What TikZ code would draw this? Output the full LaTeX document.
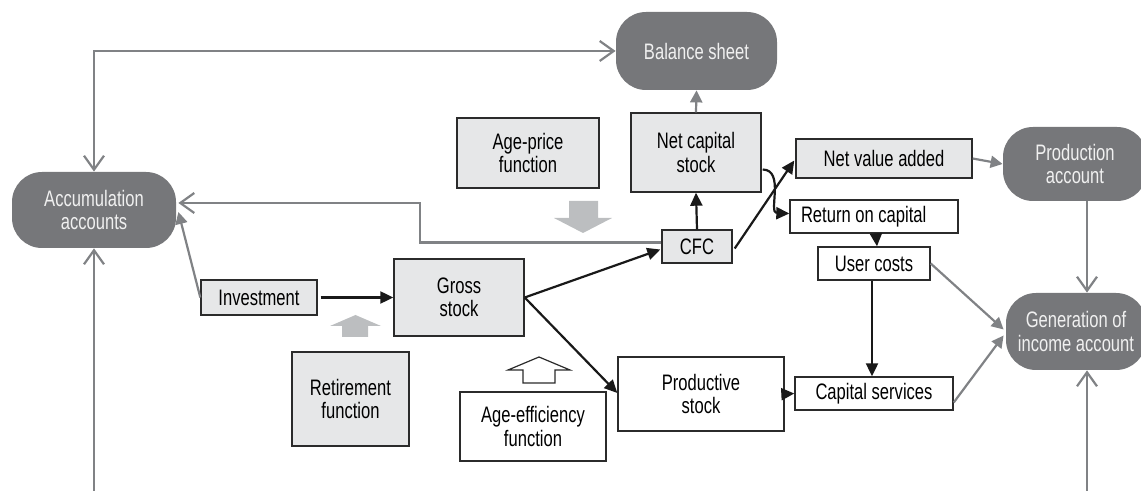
\documentclass[tikz,border=0pt]{standalone}
\usepackage{fontspec}
\setmainfont{Liberation Sans}[FakeStretch=0.74]
\usetikzlibrary{arrows.meta,calc}
\definecolor{acctfill}{HTML}{76777A}
\definecolor{boxfill}{HTML}{E6E7E8}
\definecolor{boxline}{HTML}{2B2B2B}
\definecolor{flowgray}{HTML}{808285}
\definecolor{bigarrow}{HTML}{BCBEC0}
\tikzset{
  every node/.style={font=\fontsize{11.2}{11.6}\selectfont, inner sep=0pt, align=center},
  acct/.style={rounded corners=15pt, fill=acctfill, text=white!94!black},
  boxg/.style={draw=boxline, fill=boxfill, line width=0.7pt},
  boxw/.style={draw=boxline, fill=white, line width=0.7pt},
  blk/.style={draw=black!90, line width=1.1pt, -{Triangle[length=6.5pt,width=6pt]}},
  grayf/.style={draw=flowgray, line width=1.1pt, -{Triangle[length=6pt,width=6pt]}},
  grayo/.style={draw=flowgray, line width=1.1pt, -{Straight Barb[length=7pt,width=10pt]}},
}
\begin{document}
\begin{tikzpicture}[x=0.5pt,y=-0.5pt]
\useasboundingbox (0,0) rectangle (1141,491);

% account nodes
\node[acct, minimum width=82pt, minimum height=38pt] (acc) at (94,210) {Accumulation\\accounts};
\node[acct, minimum width=80.5pt, minimum height=39pt] (bal) at (696.5,51) {Balance sheet};
\node[acct, minimum width=72pt, minimum height=37pt] (prodacc) at (1075,164) {Production\\account};
\node[acct, minimum width=70pt, minimum height=38.5pt] (gen) at (1076,331.5) {Generation of\\income account};

% stock and flow boxes
\node[boxg, minimum width=65pt, minimum height=39.5pt] (netcap) at (696,152.5) {Net capital\\stock};
\node[boxg, minimum width=71pt, minimum height=35pt] (ageprice) at (528,153) {Age-price\\function};
\node[boxg, minimum width=35pt, minimum height=16.5pt] (cfc) at (697,246.5) {CFC};
\node[boxg, minimum width=58pt, minimum height=17.5pt] (invest) at (259,297.5) {Investment};
\node[boxg, minimum width=65pt, minimum height=38.5pt] (gross) at (459,297.5) {Gross\\stock};
\node[boxg, minimum width=58.5pt, minimum height=47pt] (retire) at (350.5,399) {Retirement\\function};
\node[boxw, minimum width=73pt, minimum height=34.5pt] (ageeff) at (533,426.5) {Age-efficiency\\function};
\node[boxw, minimum width=83pt, minimum height=37pt] (prodstock) at (701,394) {Productive\\stock};
\node[boxg, minimum width=88pt, minimum height=19.5pt] (nva) at (884,158.5) {Net value added};
\node[boxw, minimum width=84pt, minimum height=16.5pt] (roc) at (874,216.5) {\makebox[73pt][l]{Return on capital}};
\node[boxw, minimum width=56pt, minimum height=16.5pt] (uc) at (874,263.5) {User costs};
\node[boxw, minimum width=79pt, minimum height=16.5pt] (cs) at (874,393.5) {Capital services};

% block arrows
\fill[bigarrow] (569,201) -- (598,201) -- (598,218) -- (612,218) -- (583,233) -- (554,218) -- (569,218) -- cycle;
\fill[bigarrow] (342,337) -- (368,337) -- (368,326) -- (381,326) -- (355.5,315) -- (330,326) -- (342,326) -- cycle;
\filldraw[fill=white, draw=boxline, line width=0.6pt] (523,383) -- (555,383) -- (555,370) -- (570,370) -- (539,357) -- (508,370) -- (523,370) -- cycle;

% free ends at the lower edge
\coordinate (accin) at (94,491);
\coordinate (genin) at (1087,491);

% gray account links
\draw[grayo, {Straight Barb[length=7pt,width=10pt]}-{Straight Barb[length=7pt,width=10pt]}] (acc.north) |- (bal.west);
\draw[grayo] ($(cfc.west)+(0,-4)$) -- (420,242.5) -- (420,203) -- ($(acc.east)+(2,-7)$);
\draw[grayf] (invest.west) -- ($(acc.east)+(2,2)$);
\draw[grayf] (netcap.north) -- (bal.south);
\draw[grayf] (nva.east) -- (prodacc.west);
\draw[grayo] ($(prodacc.south)+(12,0)$) -- ($(gen.north)+(11,0)$);
\draw[grayf] (uc.east) -- ($(gen.west)+(-2,-2)$);
\draw[grayf] ($(cs.east)+(0,9)$) -- ($(gen.west)+(-2,4)$);
\draw[grayo] (accin) -- (acc.south);
\draw[grayo] (genin) -- (gen.south -| genin);

% black stock flows
\draw[blk] ($(invest.east)+(3,0)$) -- (gross.west);
\draw[blk] (gross.east) -- ($(cfc.west)+(-1,3)$);
\draw[blk] (gross.east) -- ($(prodstock.west)+(0,-1)$);
\draw[blk] (cfc.north) -- (netcap.south);
\draw[blk] ($(cfc.east)+(2,2)$) -- ($(nva.west)+(-1,2)$);
\draw[blk] ($(netcap.east)+(1,17)$) .. controls (785,170) and (768,213) .. ($(roc.west)+(0,-3)$);
\draw[blk] ($(roc.south)+(2,0)$) -- ($(uc.north)+(3,0)$);
\draw[blk] ($(uc.south)+(-2,0)$) -- ($(cs.north)+(-2,0)$);
\draw[blk] (prodstock.east) -- (cs.west);
\end{tikzpicture}
\end{document}
